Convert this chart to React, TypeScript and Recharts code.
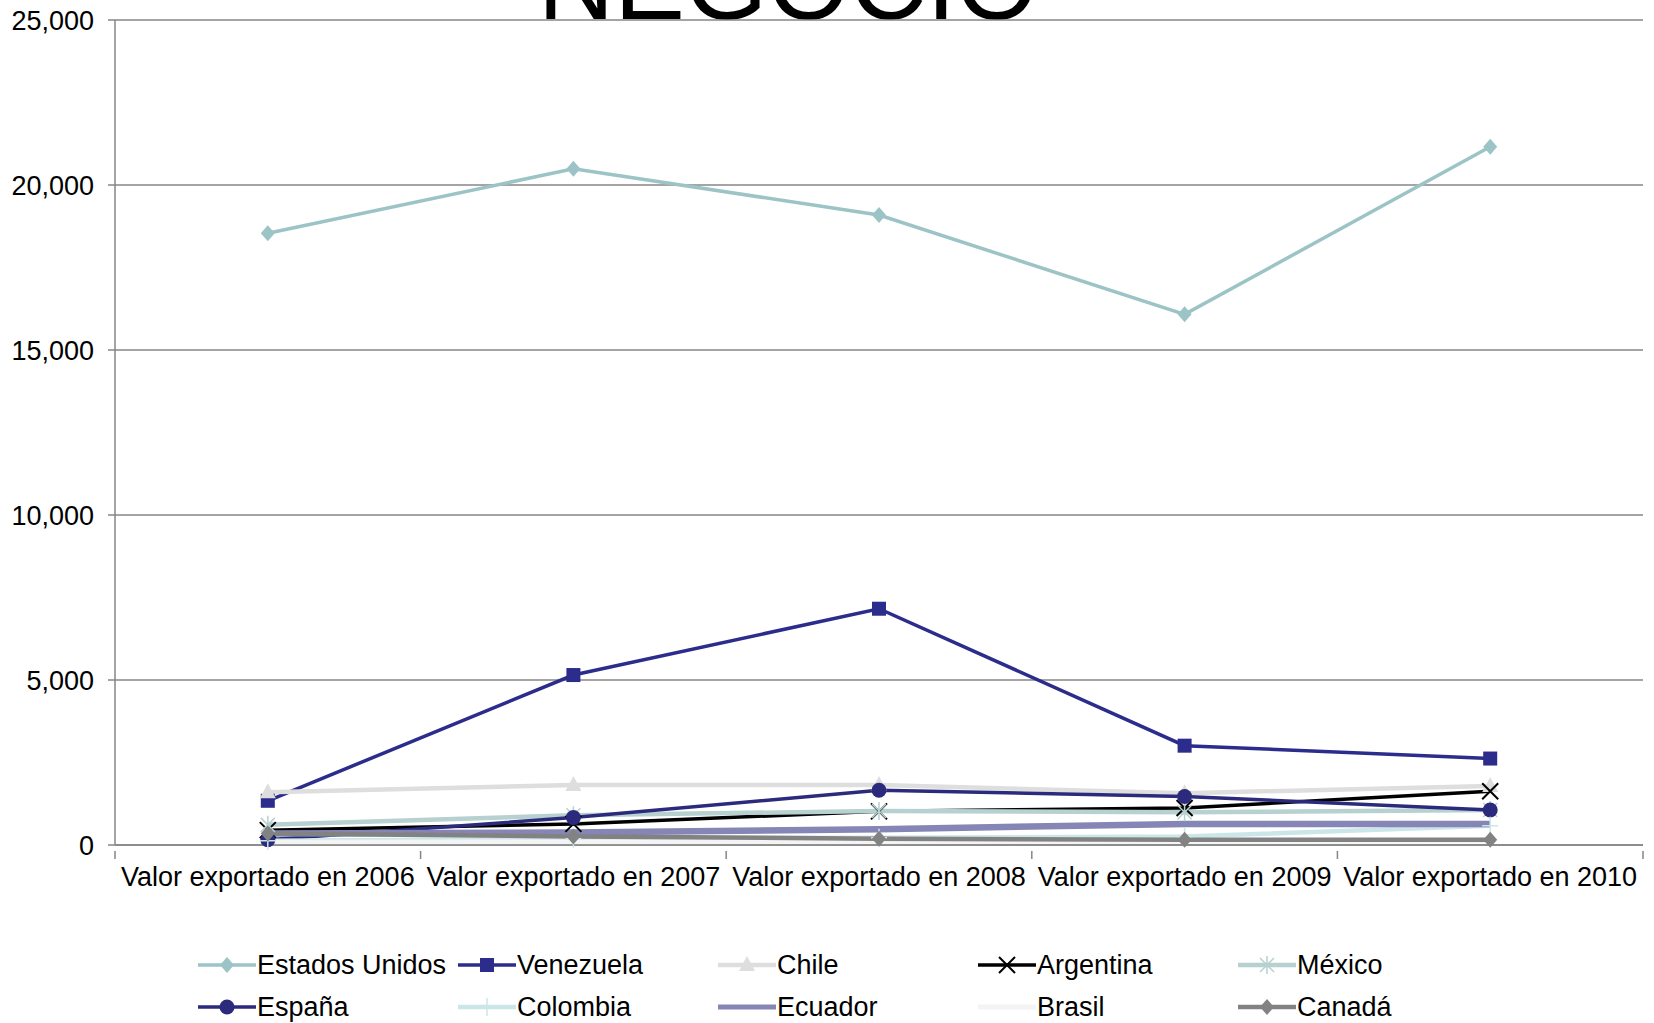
import React from 'react';
import { LineChart, Line, XAxis, YAxis, CartesianGrid, Legend } from 'recharts';

const categories = [
  'Valor exportado en 2006',
  'Valor exportado en 2007',
  'Valor exportado en 2008',
  'Valor exportado en 2009',
  'Valor exportado en 2010',
];

const estadosUnidos = [18540, 20490, 19090, 16080, 21160];
const venezuela = [1340, 5150, 7160, 3010, 2620];
const chile = [1600, 1820, 1820, 1570, 1790];
const argentina = [450, 640, 1020, 1120, 1630];
const mexico = [610, 900, 1030, 990, 1060];
const espana = [160, 830, 1660, 1470, 1060];
const colombia = [130, 190, 220, 260, 580];
const ecuador = [350, 380, 480, 640, 640];
const brasil = [80, 90, 100, 110, 120];
const canada = [350, 260, 190, 160, 160];

const yTicks = [0, 5000, 10000, 15000, 20000, 25000];

type Shape = 'diamond' | 'square' | 'triangle' | 'x' | 'star' | 'circle' | 'plus' | 'none';

const series: { key: string; name: string; values: number[]; color: string; width: number; shape: Shape }[] = [
  { key: 'eu', name: 'Estados Unidos', values: estadosUnidos, color: '#9CC4C6', width: 3.5, shape: 'diamond' },
  { key: 've', name: 'Venezuela', values: venezuela, color: '#2B2C8C', width: 3.5, shape: 'square' },
  { key: 'cl', name: 'Chile', values: chile, color: '#DEDEDE', width: 4.5, shape: 'triangle' },
  { key: 'ar', name: 'Argentina', values: argentina, color: '#000000', width: 3.5, shape: 'x' },
  { key: 'mx', name: 'México', values: mexico, color: '#B7D0D0', width: 4.5, shape: 'star' },
  { key: 'es', name: 'España', values: espana, color: '#2B2A7C', width: 3.5, shape: 'circle' },
  { key: 'co', name: 'Colombia', values: colombia, color: '#CBE6E8', width: 4.5, shape: 'plus' },
  { key: 'ec', name: 'Ecuador', values: ecuador, color: '#8585B6', width: 6.5, shape: 'none' },
  { key: 'br', name: 'Brasil', values: brasil, color: '#F4F4F4', width: 5, shape: 'none' },
  { key: 'ca', name: 'Canadá', values: canada, color: '#828282', width: 4.5, shape: 'diamond' },
];

const data = categories.map((c, i) => {
  const row: Record<string, string | number> = { name: c };
  series.forEach((s) => (row[s.key] = s.values[i]));
  return row;
});

const W = 1654;
const H = 1023;
const LEFT = 115;
const RIGHT = 11;
const BAND = (W - LEFT - RIGHT) / categories.length;
const FONT = '"Liberation Sans", Arial, sans-serif';
const FS = 27;

function marker(shape: Shape, cx: number, cy: number, color: string, k?: string) {
  switch (shape) {
    case 'diamond':
      return <path key={k} d={`M${cx},${cy - 8}L${cx + 7},${cy}L${cx},${cy + 8}L${cx - 7},${cy}Z`} fill={color} />;
    case 'square':
      return <rect key={k} x={cx - 7} y={cy - 7} width={14} height={14} fill={color} />;
    case 'triangle':
      return <path key={k} d={`M${cx},${cy - 9}L${cx + 8},${cy + 6}L${cx - 8},${cy + 6}Z`} fill={color} />;
    case 'x':
      return (
        <path key={k} d={`M${cx - 8},${cy - 8}L${cx + 8},${cy + 8}M${cx + 8},${cy - 8}L${cx - 8},${cy + 8}`} stroke={color} strokeWidth={2} />
      );
    case 'star':
      return (
        <path
          key={k}
          d={`M${cx - 7},${cy - 7}L${cx + 7},${cy + 7}M${cx + 7},${cy - 7}L${cx - 7},${cy + 7}M${cx},${cy - 9}L${cx},${cy + 9}`}
          stroke={color}
          strokeWidth={1.5}
        />
      );
    case 'circle':
      return <circle key={k} cx={cx} cy={cy} r={7.5} fill={color} />;
    case 'plus':
      return (
        <path key={k} d={`M${cx - 8},${cy}L${cx + 8},${cy}M${cx},${cy - 9}L${cx},${cy + 9}`} stroke={color} strokeWidth={1.5} />
      );
    default:
      return <g key={k} />;
  }
}

function XTick(props: any) {
  const { x, y, payload, index } = props;
  const top = y - 2;
  return (
    <g>
      <line x1={x - BAND / 2} y1={top} x2={x - BAND / 2} y2={top + 8} stroke="#868686" strokeWidth={1.5} />
      {index === categories.length - 1 && (
        <line x1={x + BAND / 2} y1={top} x2={x + BAND / 2} y2={top + 8} stroke="#868686" strokeWidth={1.5} />
      )}
      <text x={x} y={top + 35} textAnchor="middle" fontSize={FS} fontFamily={FONT} fill="#000">
        {payload.value}
      </text>
    </g>
  );
}

function LegendContent() {
  return (
    <div style={{ position: 'relative', width: W, height: 90, fontFamily: FONT }}>
      {series.map((s, i) => {
        const col = i % 5;
        const row = Math.floor(i / 5);
        return (
          <div
            key={s.key}
            style={{ position: 'absolute', left: 198 + col * 260, top: row * 42, height: 36, display: 'flex', alignItems: 'center' }}
          >
            <svg width={58} height={20}>
              <line x1={0} y1={10} x2={58} y2={10} stroke={s.color} strokeWidth={Math.min(s.width, 5)} />
              {marker(s.shape, 29, 10, s.color)}
            </svg>
            <span style={{ fontSize: FS, color: '#000', marginLeft: 1 }}>{s.name}</span>
          </div>
        );
      })}
    </div>
  );
}

export default function App() {
  return (
    <div style={{ position: 'absolute', left: 0, top: 0, width: W, height: H, background: '#fff', overflow: 'hidden' }}>
      <svg style={{ position: 'absolute', left: 0, top: 0 }} width={W} height={60}>
        <text x={788} y={19} textAnchor="middle" fontSize={106} fontFamily={FONT} fill="#000">
          NEGOCIO
        </text>
      </svg>
      <div style={{ position: 'absolute', left: 0, top: 0 }}>
        <LineChart width={W} height={H} data={data} margin={{ top: 20, right: RIGHT, left: 0, bottom: 0 }}>
          <CartesianGrid vertical={false} stroke="#868686" strokeWidth={1.5} />
          <XAxis
            dataKey="name"
            height={178}
            tickLine={false}
            axisLine={{ stroke: '#868686', strokeWidth: 1.5 }}
            tick={<XTick />}
            interval={0}
            padding={{ left: BAND / 2, right: BAND / 2 }}
          />
          <YAxis
            width={LEFT}
            domain={[0, 25000]}
            ticks={yTicks}
            tickFormatter={(v: number) => v.toLocaleString('en-US')}
            tick={{ fontSize: FS, fill: '#000', fontFamily: FONT }}
            tickSize={7}
            tickMargin={14}
            tickLine={{ stroke: '#868686', strokeWidth: 1.5 }}
            axisLine={{ stroke: '#868686', strokeWidth: 1.5 }}
          />
          <Legend
            layout="horizontal"
            verticalAlign="middle"
            align="center"
            content={<LegendContent />}
            wrapperStyle={{ position: 'absolute', left: 0, top: 947, width: W }}
          />
          {series.map((s) => (
            <Line
              key={s.key}
              dataKey={s.key}
              name={s.name}
              stroke={s.color}
              strokeWidth={s.width}
              type="linear"
              isAnimationActive={false}
              activeDot={false}
              dot={
                s.shape === 'none'
                  ? false
                  : (p: any) => marker(s.shape, p.cx, p.cy, s.color, `${s.key}-${p.index}`)
              }
            />
          ))}
        </LineChart>
      </div>
    </div>
  );
}
